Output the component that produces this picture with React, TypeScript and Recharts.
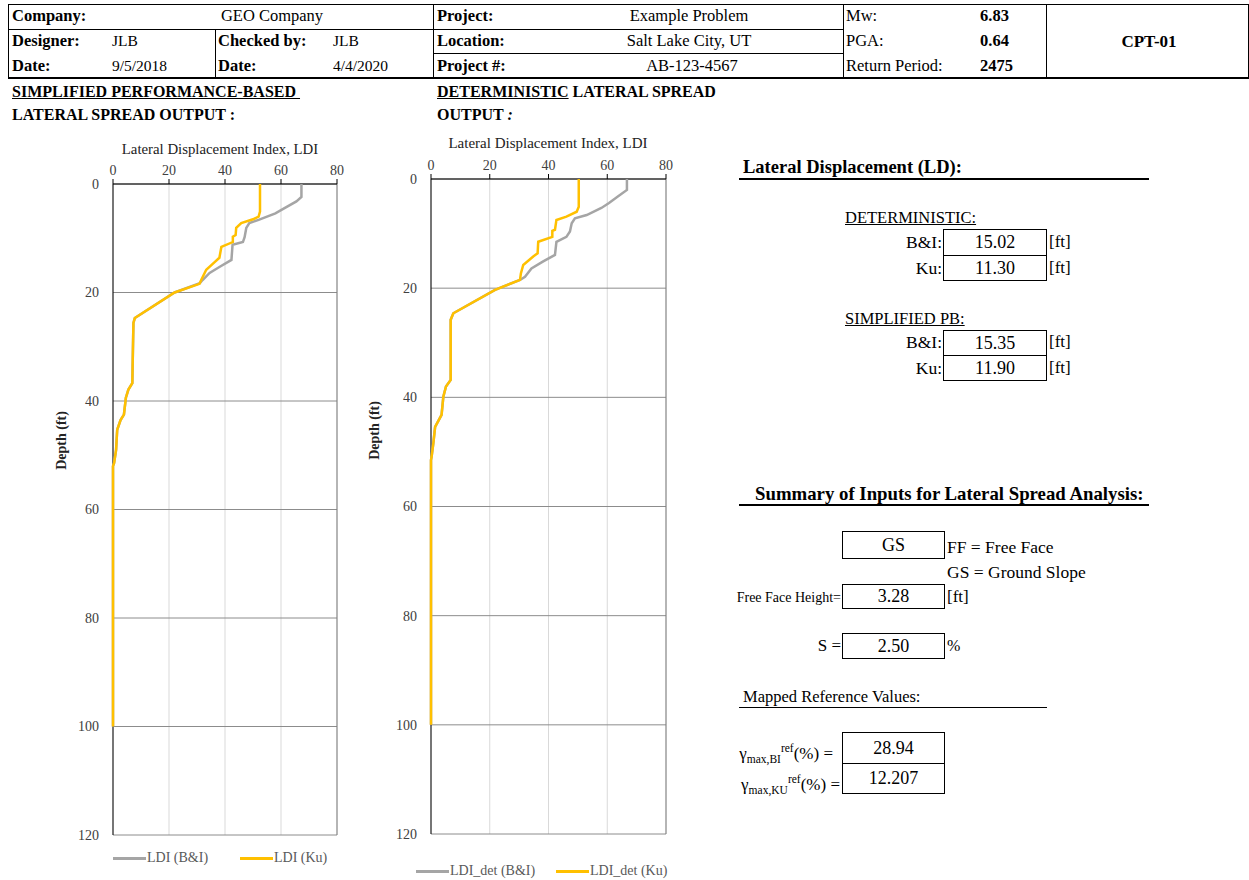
import React from 'react'
import { LineChart, Line, XAxis, YAxis, CartesianGrid, ReferenceLine } from 'recharts'

const serif = '"Liberation Serif", "Times New Roman", serif'

const ldiTicks = [0, 20, 40, 60, 80]
const depthTicks = [0, 20, 40, 60, 80, 100, 120]

// simplified performance-based output
const pbDepthBI = [0, 2.4, 3.2, 4.8, 5.4, 6.6, 7.2, 8.1, 9.8, 10.7, 11.2, 14, 15.3, 16.4, 17.7, 18.3, 20, 24.7, 25.6, 28.1, 36.7, 37.9, 39.4, 42.5, 43.5, 45.3, 49, 51.4, 52, 100]
const pbLdiBI = [67.3, 67.3, 65.5, 60, 58, 52, 48.7, 47.6, 47, 46.4, 42.7, 42.3, 38, 34.5, 32, 31, 22, 7.8, 7.3, 7.2, 6.9, 5.5, 4.6, 3.9, 2.7, 1.5, 1.1, 0.4, 0, 0]
const pbDepthKu = [0, 5.1, 6, 6.5, 7.2, 8.1, 9.4, 9.7, 10.7, 11.6, 13.6, 14.4, 15.8, 17.7, 18.4, 20, 24.7, 25.6, 28.1, 36.7, 37.9, 39.4, 42.5, 43.5, 45.3, 49, 51.4, 52, 100]
const pbLdiKu = [52.5, 52.5, 52, 50, 45.8, 44, 43.8, 42.8, 42.8, 38.7, 38, 36.3, 33.3, 31.5, 30.9, 22, 7.8, 7.3, 7.2, 6.9, 5.5, 4.6, 3.9, 2.7, 1.5, 1.1, 0.4, 0, 0]

// deterministic output
const detDepthBI = [0, 2, 3.2, 4.4, 5.3, 6.6, 7.2, 8.1, 9.6, 10.6, 11.5, 13.9, 15.1, 16.4, 17.9, 18.5, 20.3, 24.6, 25.8, 36.8, 38, 39.9, 43.2, 45.4, 48.4, 50.9, 51.5, 100]
const detLdiBI = [66.7, 66.7, 63.6, 60.6, 58, 53, 49, 47.9, 47.3, 46.1, 42.7, 42.2, 38.2, 34.2, 32, 30.3, 21.8, 7.6, 6.7, 6.7, 5.1, 4.2, 3.6, 1.4, 0.8, 0.2, 0, 0]
const detDepthKu = [0, 5.1, 6, 6.9, 7.5, 9.3, 9.5, 10.6, 11.5, 13.6, 14.2, 15.75, 17.3, 18.5, 20.3, 24.6, 25.8, 36.8, 38, 39.9, 43.2, 45.4, 48.4, 50.9, 51.5, 100]
const detLdiKu = [50.3, 50.3, 49.6, 46.1, 42.7, 42.2, 41.3, 41.3, 36.5, 36.3, 34.8, 31.4, 30.6, 30.3, 21.8, 7.6, 6.7, 6.7, 5.1, 4.2, 3.6, 1.4, 0.8, 0.2, 0, 0]

const pts = (depths: number[], vals: number[]) => depths.map((d, i) => ({ depth: d, ldi: vals[i] }))

type TProps = {
  x: number
  y: number
  children: React.ReactNode
  size?: number
  bold?: boolean
  align?: 'left' | 'center' | 'right'
  w?: number
  style?: React.CSSProperties
}

function T({ x, y, children, size = 16.5, bold, align = 'left', w = 200, style }: TProps) {
  let left = x
  if (align === 'center') left = x - w / 2
  if (align === 'right') left = x - w
  return (
    <div
      style={{
        position: 'absolute',
        left,
        top: y - size * 0.6,
        width: align === 'left' ? undefined : w,
        textAlign: align,
        lineHeight: `${size * 1.2}px`,
        fontSize: size,
        fontWeight: bold ? 'bold' : 'normal',
        fontFamily: serif,
        whiteSpace: 'nowrap',
        color: '#000',
        ...style,
      }}
    >
      {children}
    </div>
  )
}

function Rule({ x, y, w, h, c = '#000' }: { x: number; y: number; w: number; h: number; c?: string }) {
  return <div style={{ position: 'absolute', left: x, top: y, width: w, height: h, background: c }} />
}

function Box({ x, y, w, h, text }: { x: number; y: number; w: number; h: number; text: string }) {
  return (
    <div
      style={{
        position: 'absolute',
        left: x,
        top: y,
        width: w - 2,
        height: h - 2,
        border: '1px solid #000',
        textAlign: 'center',
        lineHeight: `${h - 2}px`,
        fontSize: 18,
        fontFamily: serif,
      }}
    >
      {text}
    </div>
  )
}

function DepthChart({ bi, ku, width, height, ml }: { bi: any[]; ku: any[]; width: number; height: number; ml: number }) {
  const tick = { fill: '#404040', fontSize: 14, fontFamily: serif }
  return (
    <LineChart layout="vertical" width={width} height={height} margin={{ top: 0, right: 10, bottom: 13, left: ml }}>
      <CartesianGrid horizontal={false} stroke="#d9d9d9" />
      <CartesianGrid vertical={false} stroke="#8c8c8c" />
      <XAxis
        type="number"
        orientation="top"
        domain={[0, 80]}
        ticks={ldiTicks}
        interval={0}
        height={64}
        tickSize={5}
        tickMargin={4}
        stroke="#000"
        tick={tick}
      />
      <YAxis
        type="number"
        dataKey="depth"
        domain={[0, 120]}
        ticks={depthTicks}
        interval={0}
        width={40}
        tickLine={false}
        tickSize={6}
        tickMargin={8}
        stroke="#000"
        tick={tick}
      />
      <ReferenceLine x={80} stroke="#7f7f7f" />
      <Line data={bi} dataKey="ldi" stroke="#a5a5a5" strokeWidth={2.5} dot={false} isAnimationActive={false} zIndex={600} />
      <Line data={ku} dataKey="ldi" stroke="#ffc000" strokeWidth={2.5} dot={false} isAnimationActive={false} zIndex={601} />
    </LineChart>
  )
}

function LegendItem({ x, y, color, label }: { x: number; y: number; color: string; label: string }) {
  return (
    <>
      <Rule x={x} y={y - 1} w={33} h={2.5} c={color} />
      <T x={x + 34} y={y} size={14} style={{ color: '#595959' }}>
        {label}
      </T>
    </>
  )
}

function Gamma({ x, y, sub }: { x: number; y: number; sub: string }) {
  return (
    <T x={x} y={y} size={17} align="right" w={140}>
      γ<span style={{ fontSize: 11.5, verticalAlign: 'sub' }}>{sub}</span>
      <span style={{ fontSize: 11.5, verticalAlign: 'super' }}>ref</span>(%) =
    </T>
  )
}

export default function App() {
  return (
    <div style={{ position: 'absolute', left: 0, top: 0, width: 1249, height: 880, background: '#fff', fontFamily: serif }}>
      {/* header block */}
      <div style={{ position: 'absolute', left: 8, top: 4, width: 1239, height: 72, border: '1px solid #000', borderBottomWidth: 2 }} />
      <Rule x={433} y={4} w={1} h={74} />
      <Rule x={843} y={4} w={1} h={74} />
      <Rule x={1046} y={4} w={1} h={74} />
      <Rule x={215} y={29} w={1} h={49} />
      <Rule x={8} y={29} w={835} h={1} />
      <Rule x={433} y={53} w={410} h={1} />

      <T x={12} y={16} bold>Company:</T>
      <T x={272} y={16} align="center">GEO Company</T>
      <T x={12} y={41} bold>Designer:</T>
      <T x={112} y={41} size={15.5}>JLB</T>
      <T x={12} y={66} bold>Date:</T>
      <T x={112} y={66} size={15.5}>9/5/2018</T>
      <T x={218} y={41} bold>Checked by:</T>
      <T x={333} y={41} size={15.5}>JLB</T>
      <T x={218} y={66} bold>Date:</T>
      <T x={333} y={66} size={15.5}>4/4/2020</T>

      <T x={437} y={16} bold>Project:</T>
      <T x={689} y={16} align="center">Example Problem</T>
      <T x={437} y={41} bold>Location:</T>
      <T x={689} y={41} align="center">Salt Lake City, UT</T>
      <T x={437} y={66} bold>Project #:</T>
      <T x={692} y={66} align="center">AB-123-4567</T>

      <T x={846} y={16}>Mw:</T>
      <T x={980} y={16} bold>6.83</T>
      <T x={846} y={41}>PGA:</T>
      <T x={980} y={41} bold>0.64</T>
      <T x={846} y={66}>Return Period:</T>
      <T x={980} y={66} bold>2475</T>
      <T x={1149} y={42} size={17} bold align="center">CPT-01</T>

      {/* section titles */}
      <T x={12} y={92} size={16} bold style={{ textDecoration: 'underline' }}>SIMPLIFIED PERFORMANCE-BASED&nbsp;</T>
      <T x={12} y={115} size={16} bold>LATERAL SPREAD OUTPUT :</T>
      <T x={437} y={92} size={16} bold>
        <span style={{ textDecoration: 'underline' }}>DETERMINISTIC</span> LATERAL SPREAD
      </T>
      <T x={437} y={115} size={16} bold>
        OUTPUT <i>:</i>
      </T>

      {/* chart 1 */}
      <div style={{ position: 'absolute', left: 40, top: 120 }}>
        <DepthChart bi={pts(pbDepthBI, pbLdiBI)} ku={pts(pbDepthKu, pbLdiKu)} width={307} height={728} ml={33} />
      </div>
      <T x={220} y={150} size={14.8} align="center" w={260} style={{ color: '#222' }}>Lateral Displacement Index, LDI</T>
      <T x={62} y={440} size={14} bold align="center" w={100} style={{ transform: 'rotate(-90deg)', color: '#222' }}>Depth (ft)</T>
      <LegendItem x={113} y={858} color="#a5a5a5" label="LDI (B&I)" />
      <LegendItem x={240} y={858} color="#ffc000" label="LDI (Ku)" />

      {/* chart 2 */}
      <div style={{ position: 'absolute', left: 360, top: 115 }}>
        <DepthChart bi={pts(detDepthBI, detLdiBI)} ku={pts(detDepthKu, detLdiKu)} width={316} height={732} ml={31} />
      </div>
      <T x={548} y={143} size={15} align="center" w={260} style={{ color: '#222' }}>Lateral Displacement Index, LDI</T>
      <T x={375} y={430} size={14} bold align="center" w={100} style={{ transform: 'rotate(-90deg)', color: '#222' }}>Depth (ft)</T>
      <LegendItem x={416} y={871} color="#a5a5a5" label="LDI_det (B&I)" />
      <LegendItem x={556} y={871} color="#ffc000" label="LDI_det (Ku)" />

      {/* lateral displacement results */}
      <T x={743} y={167} size={18.5} bold>Lateral Displacement (LD):</T>
      <Rule x={739} y={178} w={410} h={2} />
      <T x={845} y={218} size={16.5} style={{ textDecoration: 'underline' }}>DETERMINISTIC:</T>
      <T x={942} y={242} size={17.5} align="right" w={80}>B&amp;I:</T>
      <Box x={943} y={229} w={104} h={27} text="15.02" />
      <T x={1049} y={242} size={17}>[ft]</T>
      <T x={942} y={268} size={17.5} align="right" w={80}>Ku:</T>
      <Box x={943} y={255} w={104} h={26} text="11.30" />
      <T x={1049} y={268} size={17}>[ft]</T>

      <T x={845} y={319} size={16.5} style={{ textDecoration: 'underline' }}>SIMPLIFIED PB:</T>
      <T x={942} y={342} size={17.5} align="right" w={80}>B&amp;I:</T>
      <Box x={943} y={330} w={104} h={26} text="15.35" />
      <T x={1049} y={342} size={17}>[ft]</T>
      <T x={942} y={368} size={17.5} align="right" w={80}>Ku:</T>
      <Box x={943} y={355} w={104} h={26} text="11.90" />
      <T x={1049} y={368} size={17}>[ft]</T>

      {/* inputs summary */}
      <T x={755} y={494} size={18.8} bold>Summary of Inputs for Lateral Spread Analysis:</T>
      <Rule x={739} y={504} w={410} h={2} />
      <Box x={842} y={531} w={103} h={28} text="GS" />
      <T x={947} y={547} size={17.5}>FF = Free Face</T>
      <T x={947} y={572} size={17.5}>GS = Ground Slope</T>
      <T x={841} y={598} size={14} align="right" w={120}>Free Face Height=</T>
      <Box x={842} y={584} w={103} h={25} text="3.28" />
      <T x={947} y={597} size={17}>[ft]</T>
      <T x={841} y={646} size={17} align="right" w={60}>S =</T>
      <Box x={842} y={633} w={103} h={26} text="2.50" />
      <T x={947} y={646} size={16}>%</T>

      <T x={743} y={697} size={16.5}>Mapped Reference Values:</T>
      <Rule x={739} y={707} w={308} h={1} />
      <Gamma x={833} y={748} sub="max,BI" />
      <Box x={842} y={732} w={103} h={32} text="28.94" />
      <Gamma x={840} y={779} sub="max,KU" />
      <Box x={842} y={763} w={103} h={31} text="12.207" />
    </div>
  )
}
